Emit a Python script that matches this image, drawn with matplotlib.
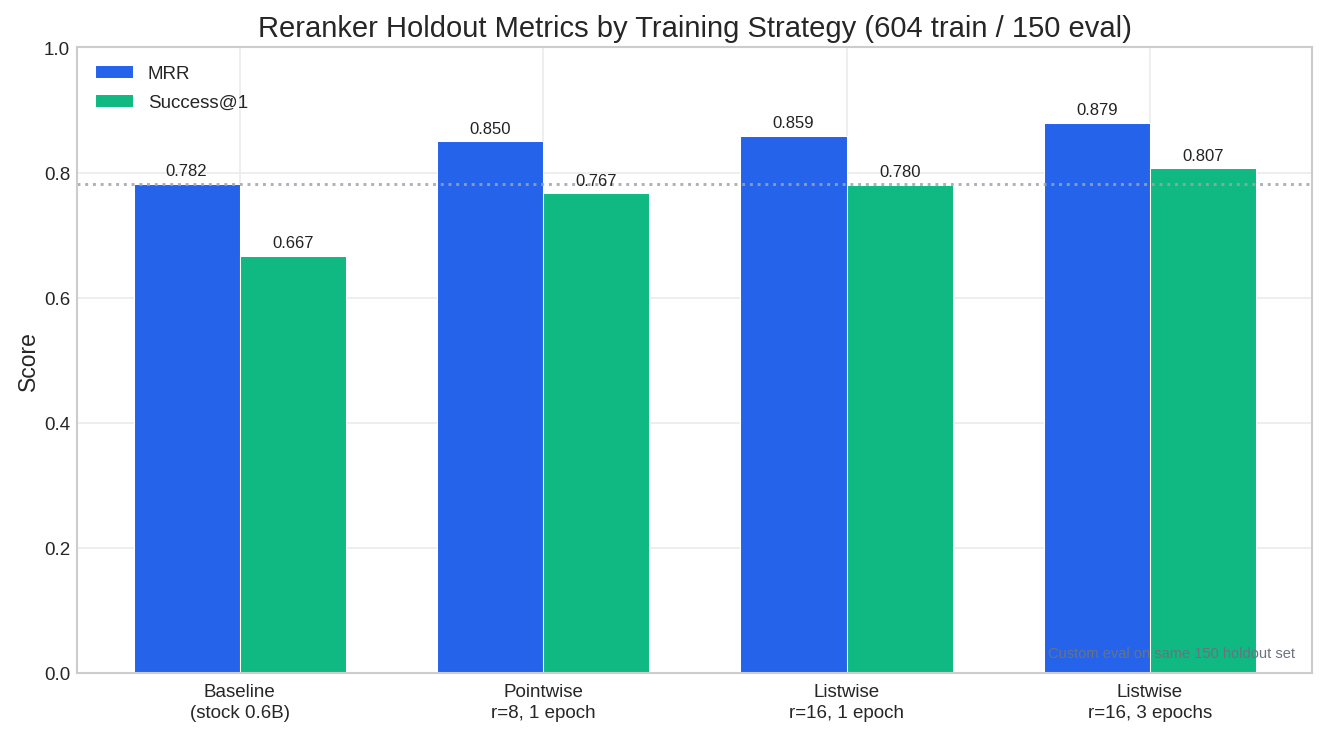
import numpy as np
import matplotlib
matplotlib.use('Agg')
import matplotlib.pyplot as plt

strategies = ['Baseline\n(stock 0.6B)', 'Pointwise\nr=8, 1 epoch',
              'Listwise\nr=16, 1 epoch', 'Listwise\nr=16, 3 epochs']
mrr = [0.782, 0.850, 0.859, 0.879]
success1 = [0.667, 0.767, 0.780, 0.807]
baseline_mrr = 0.782

plt.style.use('seaborn-v0_8-whitegrid')
plt.rcParams['font.family'] = ['Liberation Sans', 'DejaVu Sans']

fig, ax = plt.subplots(figsize=(8.9, 4.893), dpi=150)

x = np.arange(len(strategies))
width = 0.35

b1 = ax.bar(x - width / 2, mrr, width, color='#2563EB', label='MRR',
            edgecolor='white', linewidth=0.5)
b2 = ax.bar(x + width / 2, success1, width, color='#10B981', label='Success@1',
            edgecolor='white', linewidth=0.5)

# value labels
for bars in (b1, b2):
    for bar in bars:
        h = bar.get_height()
        ax.text(bar.get_x() + bar.get_width() / 2, h + 0.009, f'{h:.3f}',
                ha='center', va='bottom', fontsize=8, color='#222222')

# baseline reference
ax.axhline(baseline_mrr, color='#9CA3AF', linestyle=':', linewidth=1.4, alpha=0.85)

ax.set_ylim(0, 1.0)
ax.set_xticks(x)
ax.set_xticklabels(strategies, fontsize=9, linespacing=1.3)
ax.tick_params(axis='y', labelsize=9)
ax.tick_params(axis='x', pad=5)
ax.set_ylabel('Score', fontsize=11, labelpad=2)
ax.set_title('Reranker Holdout Metrics by Training Strategy (604 train / 150 eval)',
             fontsize=14, pad=5.5)
ax.legend(loc='upper left', fontsize=9, frameon=False, labelspacing=0.62,
          borderaxespad=0.55)
ax.grid(True, color='#EBEBEB', linewidth=0.8)
for s in ax.spines.values():
    s.set_visible(True)
    s.set_color('#CCCCCC')
    s.set_linewidth(1.0)

ax.text(0.986, 0.02, 'Custom eval on same 150 holdout set', transform=ax.transAxes,
        ha='right', va='bottom', fontsize=7, color='#6B7280')

fig.subplots_adjust(left=0.058, right=0.983, top=0.934, bottom=0.082)
fig.savefig('out.png', dpi=150)
